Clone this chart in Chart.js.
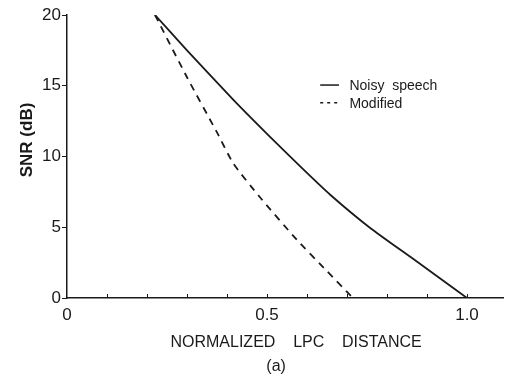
<!DOCTYPE html>
<html>
<head>
<meta charset="utf-8">
<script src="https://cdn.jsdelivr.net/npm/chart.js@4.4.0/dist/chart.umd.min.js"></script>
<style>
  html, body { margin: 0; padding: 0; background: #fff; }
  #wrap { width: 508px; height: 379px; }
</style>
</head>
<body>
<div id="wrap"><canvas id="snrChart" width="508" height="379"></canvas></div>
<script>
// Data: SNR (dB) vs normalized LPC distance
const noisyX = [0.22, 0.3, 0.416, 0.5, 0.583, 0.658, 0.758, 0.866, 1.0];
const noisyY = [20, 17.5, 14.0, 11.6, 9.3, 7.3, 4.95, 2.75, 0];
const modX = [0.22, 0.3, 0.375, 0.416, 0.483, 0.575, 0.65, 0.715];
const modY = [20, 15.6, 11.7, 9.5, 7.1, 4.1, 1.9, 0];
const yTicks = [0, 5, 10, 15, 20];
const xLabelTicks = [0, 0.5, 1.0];
const xMinorTicks = [0.1, 0.2, 0.3, 0.4, 0.5, 0.6, 0.7, 0.8, 0.9, 1.0];
const seriesNames = ['Noisy  speech', 'Modified'];

const FONT = "'Liberation Sans', Arial, sans-serif";
const INK = '#1a1a1a';

const toPoints = (xs, ys) => xs.map((x, i) => ({ x, y: ys[i] }));

// tick marks on the x axis point up into the plot, and the legend sits inside it
const decorPlugin = {
  id: 'decor',
  afterDraw(chart) {
    const { ctx, scales: { x, y } } = chart;
    ctx.save();
    ctx.strokeStyle = INK;
    ctx.lineWidth = 1;
    const y0 = y.getPixelForValue(0);
    xMinorTicks.forEach(v => {
      const px = Math.round(x.getPixelForValue(v)) + 0.5;
      ctx.beginPath();
      ctx.moveTo(px, y0);
      ctx.lineTo(px, y0 - 4);
      ctx.stroke();
    });

    // legend
    const lx0 = x.getPixelForValue(0.633);
    const lx1 = x.getPixelForValue(0.68);
    const tx = x.getPixelForValue(0.706);
    const rows = [y.getPixelForValue(15.05), y.getPixelForValue(13.8)];
    ctx.font = '14px ' + FONT;
    ctx.fillStyle = INK;
    ctx.textBaseline = 'middle';
    rows.forEach((ry, i) => {
      ctx.lineWidth = 1.5;
      ctx.setLineDash(i === 0 ? [] : [3, 4]);
      ctx.beginPath();
      ctx.moveTo(lx0, ry);
      ctx.lineTo(lx1, ry);
      ctx.stroke();
      ctx.setLineDash([]);
      ctx.fillText(seriesNames[i], tx, ry + 1);
    });
    ctx.restore();
  }
};

new Chart(document.getElementById('snrChart'), {
  type: 'scatter',
  data: {
    datasets: [
      {
        label: seriesNames[0],
        data: toPoints(noisyX, noisyY),
        showLine: true,
        borderColor: INK,
        borderWidth: 1.8,
        pointRadius: 0,
        tension: 0.2,
        fill: false,
      },
      {
        label: seriesNames[1],
        data: toPoints(modX, modY),
        showLine: true,
        borderColor: INK,
        borderWidth: 1.8,
        borderDash: [7, 6],
        pointRadius: 0,
        tension: 0.2,
        fill: false,
      },
    ],
  },
  options: {
    responsive: false,
    animation: false,
    layout: { padding: { top: 15, right: 5, left: 0, bottom: 0 } },
    plugins: {
      legend: { display: false },
      tooltip: { enabled: false },
    },
    scales: {
      x: {
        type: 'linear',
        min: 0,
        max: 1.09,
        border: { color: INK, width: 1.5 },
        grid: { display: false, drawOnChartArea: false, drawTicks: false },
        afterBuildTicks: (axis) => {
          axis.ticks = xLabelTicks.map(v => ({ value: v }));
        },
        afterFit: (axis) => { axis.height = 81; },
        ticks: {
          padding: 7,
          color: INK,
          font: { family: FONT, size: 17 },
          callback: (v) => (v === 0 ? '0' : v.toFixed(1)),
        },
        title: {
          display: true,
          text: ['     NORMALIZED    LPC    DISTANCE', '(a)    '],
          color: INK,
          font: { family: FONT, size: 16, lineHeight: 1.5 },
          padding: { top: 0, bottom: 0 },
        },
      },
      y: {
        type: 'linear',
        min: 0,
        max: 20,
        border: { color: INK, width: 1.5 },
        grid: { drawOnChartArea: false, drawTicks: true, tickLength: 5, color: INK },
        afterBuildTicks: (axis) => {
          axis.ticks = yTicks.map(v => ({ value: v }));
        },
        afterFit: (axis) => { axis.width = 67; },
        ticks: {
          padding: 1,
          color: INK,
          font: { family: FONT, size: 17 },
        },
        title: {
          display: true,
          text: '       SNR (dB)',
          color: INK,
          font: { family: FONT, size: 17, weight: 'bold' },
          padding: { top: 17, bottom: 0 },
        },
      },
    },
  },
  plugins: [decorPlugin],
});
</script>
</body>
</html>
